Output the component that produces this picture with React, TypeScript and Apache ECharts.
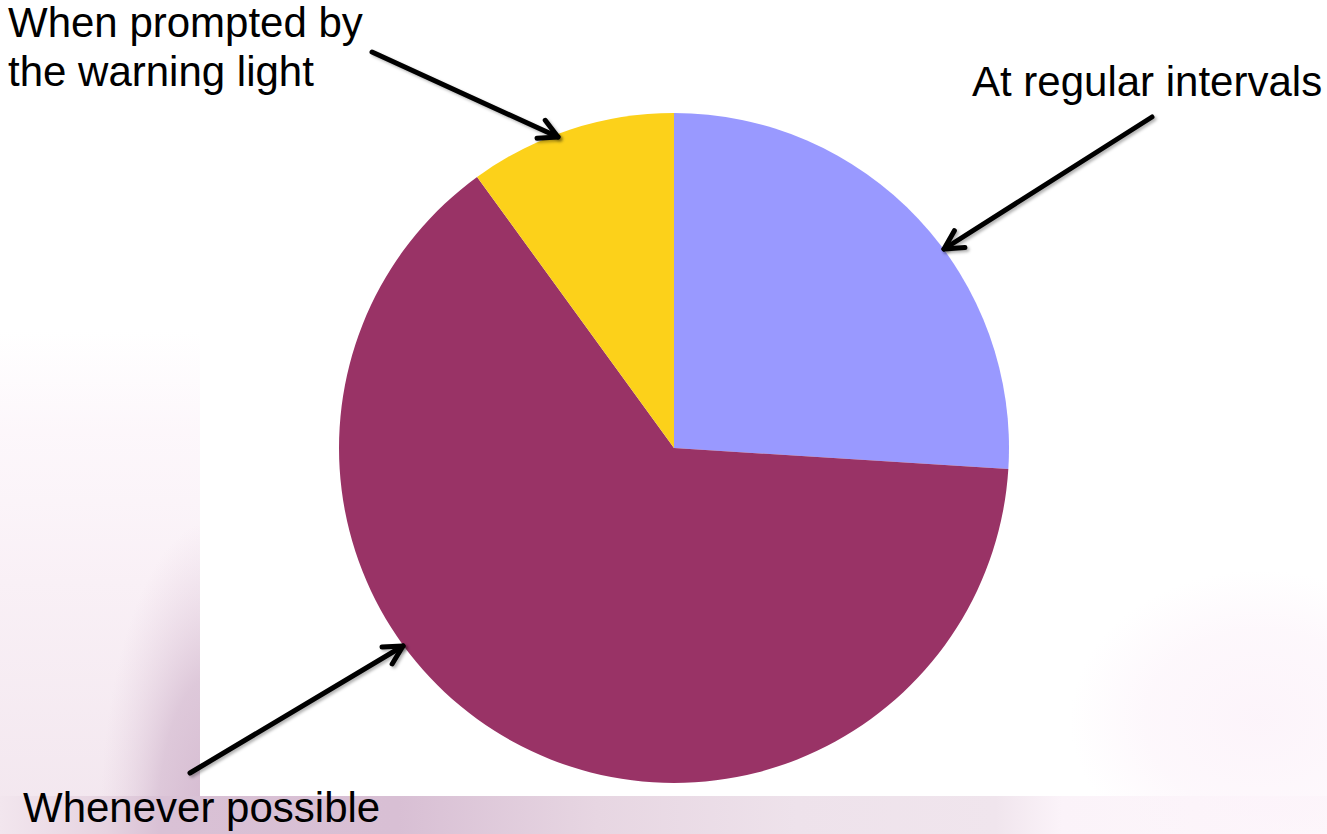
import React, { useEffect, useRef } from "react";
import * as echarts from "echarts";

const categories = ["At regular intervals", "Whenever possible", "When prompted by the warning light"];
const values = [26, 64, 10];
const colors = ["#9999ff", "#993366", "#fcd11a"];

const FONT = "'Liberation Sans', Arial, Helvetica, sans-serif";

function arrow(sx: number, sy: number, tx: number, ty: number) {
  const dx = sx - tx;
  const dy = sy - ty;
  const a = Math.atan2(dy, dx);
  const spread = (28 * Math.PI) / 180;
  const len = 21;
  const p1 = [tx + len * Math.cos(a - spread), ty + len * Math.sin(a - spread)];
  const p2 = [tx + len * Math.cos(a + spread), ty + len * Math.sin(a + spread)];
  const st = {
    stroke: "#000",
    lineWidth: 5,
    lineCap: "round",
    lineJoin: "round",
    fill: null,
    shadowBlur: 3,
    shadowColor: "rgba(0,0,0,0.3)",
    shadowOffsetX: 2,
    shadowOffsetY: 2,
  };
  return [
    { type: "line", z: 20, shape: { x1: sx, y1: sy, x2: tx, y2: ty }, style: st },
    { type: "polyline", z: 20, shape: { points: [p1, [tx, ty], p2] }, style: st },
  ];
}

function txt(text: string, x: number, baseline: number) {
  return {
    type: "text",
    z: 20,
    style: {
      text,
      x,
      y: baseline - 14.5,
      font: `42px ${FONT}`,
      fill: "#000",
      textAlign: "left",
      textVerticalAlign: "middle",
    },
  };
}

export default function App() {
  const ref = useRef<HTMLDivElement>(null);
  useEffect(() => {
    if (!ref.current) return;
    const chart = echarts.init(ref.current, undefined, { renderer: "svg" });
    const LG = echarts.graphic.LinearGradient;
    const RG = echarts.graphic.RadialGradient;
    const bg = [
      {
        type: "rect",
        z: -10,
        shape: { x: 0, y: 330, width: 200, height: 504 },
        style: {
          fill: new LG(0, 0, 0, 1, [
            { offset: 0, color: "rgba(252,245,250,0)" },
            { offset: 0.2, color: "rgba(252,245,250,0.8)" },
            { offset: 0.5, color: "#f9f0f6" },
            { offset: 1, color: "#f2e6ee" },
          ]),
        },
      },
      {
        type: "ellipse",
        z: -9,
        shape: { cx: 215, cy: 830, rx: 115, ry: 310 },
        style: {
          fill: new RG(0.5, 0.5, 0.5, [
            { offset: 0, color: "rgba(212,184,207,1)" },
            { offset: 0.5, color: "rgba(216,192,212,0.8)" },
            { offset: 1, color: "rgba(230,210,225,0)" },
          ]),
        },
      },
      {
        type: "rect",
        z: -8,
        shape: { x: 0, y: 796, width: 1327, height: 38 },
        style: {
          fill: new LG(0, 0, 1, 0, [
            { offset: 0, color: "#f2e6ee" },
            { offset: 0.08, color: "#e6d3e0" },
            { offset: 0.12, color: "#d9c1d5" },
            { offset: 0.3, color: "#d8bfd4" },
            { offset: 0.45, color: "#e7d6e2" },
            { offset: 0.6, color: "#eee2eb" },
            { offset: 0.75, color: "#f0e5ed" },
            { offset: 0.8, color: "#fbf3f9" },
            { offset: 1, color: "#fdf7fb" },
          ]),
        },
      },
      {
        type: "rect",
        z: -7,
        shape: { x: 200, y: 0, width: 1127, height: 796 },
        style: { fill: "#ffffff" },
      },
      {
        type: "ellipse",
        z: -6,
        shape: { cx: 1260, cy: 720, rx: 190, ry: 150 },
        style: {
          fill: new RG(0.5, 0.5, 0.5, [
            { offset: 0, color: "rgba(252,243,250,0.9)" },
            { offset: 0.6, color: "rgba(252,243,250,0.6)" },
            { offset: 1, color: "rgba(252,243,250,0)" },
          ]),
        },
      },
    ];
    const labels = [
      txt("When prompted by", 8, 37),
      txt("the warning light", 8, 86),
      txt(categories[0], 972, 96),
      txt(categories[1], 23, 822),
    ];
    const arrows = [
      ...arrow(372, 52, 558, 137),
      ...arrow(1152, 117, 944, 249),
      ...arrow(190, 773, 403, 646),
    ];
    chart.setOption({
      animation: false,
      backgroundColor: "#ffffff",
      graphic: { elements: [...bg, ...labels, ...arrows] },
      series: [
        {
          type: "pie",
          center: [674, 448],
          radius: 335,
          startAngle: 90,
          clockwise: true,
          silent: true,
          label: { show: false },
          labelLine: { show: false },
          itemStyle: { borderWidth: 0 },
          emphasis: { disabled: true },
          data: categories.map((name, i) => ({
            name,
            value: values[i],
            itemStyle: { color: colors[i] },
          })),
        },
      ],
    });
    return () => chart.dispose();
  }, []);
  return (
    <div
      ref={ref}
      style={{ position: "absolute", left: 0, top: 0, width: 1327, height: 834 }}
    />
  );
}
